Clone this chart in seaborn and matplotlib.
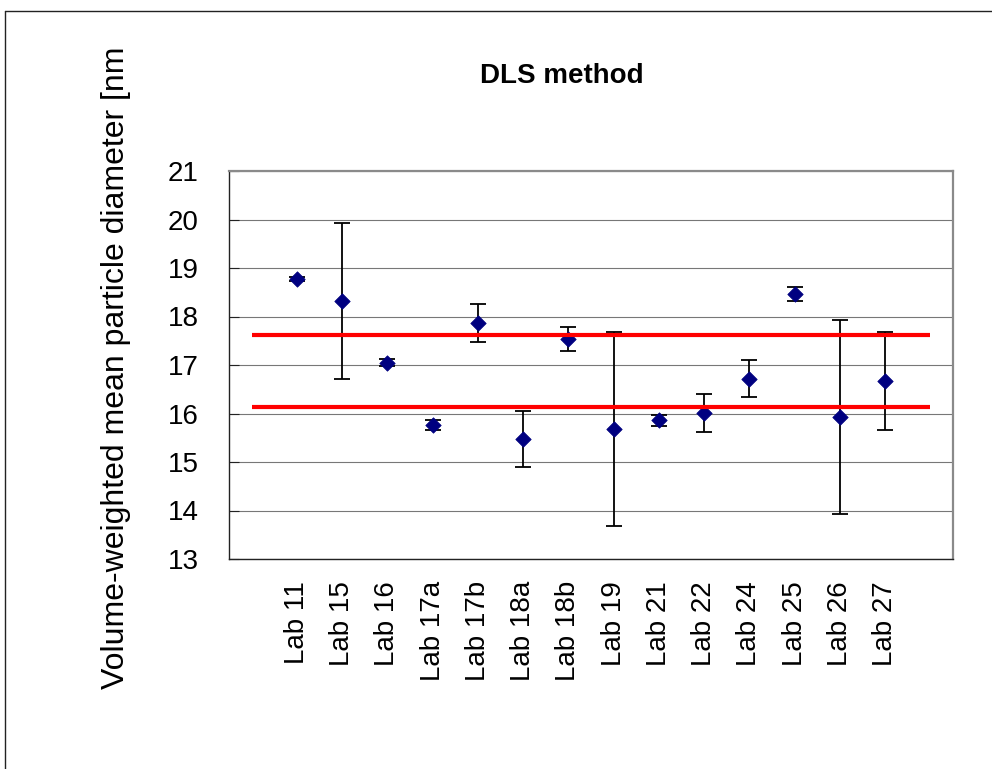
import matplotlib
matplotlib.use("Agg")
import matplotlib.pyplot as plt
from matplotlib.lines import Line2D
import numpy as np
import pandas as pd
import seaborn as sns

# Laboratory results (mean and uncertainty) for the DLS method
labs = ["Lab 11", "Lab 15", "Lab 16", "Lab 17a", "Lab 17b", "Lab 18a", "Lab 18b",
        "Lab 19", "Lab 21", "Lab 22", "Lab 24", "Lab 25", "Lab 26", "Lab 27"]
means = [18.78, 18.32, 17.05, 15.76, 17.87, 15.48, 17.54,
         15.69, 15.86, 16.01, 16.72, 18.46, 15.93, 16.68]
errors = [0.04, 1.60, 0.08, 0.11, 0.39, 0.58, 0.25,
          2.00, 0.11, 0.39, 0.38, 0.14, 2.00, 1.01]
# acceptance band limits
limits = [16.14, 17.625]

y_ticks = [13, 14, 15, 16, 17, 18, 19, 20, 21]

sns.set_theme(style="white")
plt.rcParams["font.family"] = ["Liberation Sans", "DejaVu Sans"]

df = pd.DataFrame({"lab": labs, "mean": means, "err": errors})
df["pos"] = np.arange(1, len(labs) + 1)

fig = plt.figure(figsize=(9.92, 7.69), dpi=100, facecolor="white")
ax = fig.add_axes([229 / 992, 1 - 559 / 769, (953 - 229) / 992, (559 - 171) / 769])

ax.errorbar(df["pos"], df["mean"], yerr=df["err"], fmt="none", ecolor="black",
            elinewidth=1.3, capsize=5.5, capthick=1.3, zorder=2)
sns.scatterplot(data=df, x="pos", y="mean", marker="D", s=62, color="#000080",
                edgecolor="#000080", linewidth=0.5, zorder=3, ax=ax, legend=False)
ax.hlines(limits, 0, len(labs) + 1, colors="#ff0000", linewidth=3.0, zorder=4)

ax.set_xlim(-0.5, len(labs) + 1.5)
ax.set_ylim(y_ticks[0], y_ticks[-1])
ax.set_yticks(y_ticks)
ax.set_yticklabels([str(t) for t in y_ticks])
ax.set_xticks(df["pos"])
ax.set_xticklabels(labs, rotation=90)
ax.set_xlabel("")
ax.set_ylabel("")

ax.yaxis.grid(True, color="#777777", linewidth=0.8)
ax.xaxis.grid(False)
ax.set_axisbelow(True)

ax.tick_params(axis="y", direction="in", length=7, width=0.8, color="#222222",
               labelsize=20, pad=22, left=True, labelcolor="black")
ax.tick_params(axis="x", length=0, labelsize=20, pad=16, labelcolor="black")

for side in ("left", "bottom"):
    ax.spines[side].set_color("#222222")
    ax.spines[side].set_linewidth(1.0)
for side in ("top", "right"):
    ax.spines[side].set_color("#8a8a8a")
    ax.spines[side].set_linewidth(1.6)

fig.text(561.7 / 992, 1 - 83 / 769, "DLS method", ha="center", va="baseline",
         fontsize=20, fontweight="bold", color="black")
fig.text(116 / 992, 1 - 367.5 / 769, "Volume-weighted mean particle diameter [nm",
         rotation=90, ha="center", va="center", fontsize=23, color="black")

# outer chart frame
fig.add_artist(Line2D([5 / 992, 1.0], [1 - 11 / 769, 1 - 11 / 769],
                      transform=fig.transFigure, color="#222222", linewidth=1.0))
fig.add_artist(Line2D([5 / 992, 5 / 992], [0.0, 1 - 11 / 769],
                      transform=fig.transFigure, color="#222222", linewidth=1.0))

fig.savefig("out.png", dpi=100, facecolor="white")
